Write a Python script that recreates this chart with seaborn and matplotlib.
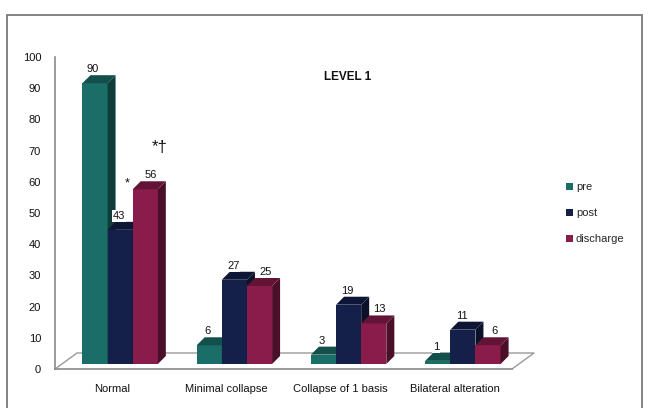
import numpy as np
import pandas as pd
import matplotlib
matplotlib.use("Agg")
import matplotlib.pyplot as plt
import matplotlib.colors as mcolors
from matplotlib.patches import Polygon, Patch, Rectangle
from matplotlib.transforms import ScaledTranslation
import seaborn as sns

categories = ["Normal", "Minimal collapse", "Collapse of 1 basis", "Bilateral alteration"]
series = ["pre", "post", "discharge"]
pre = [90, 6, 3, 1]
post = [43, 27, 19, 11]
discharge = [56, 25, 13, 6]
title = "LEVEL 1"

COLORS = {"pre": "#1b6e68", "post": "#141f4a", "discharge": "#8a1c4b"}
LABEL_DX = {"pre": -2, "post": -1, "discharge": 6}   # label nudge, pixels
DEPTH_PX = (8, 8)      # bar depth (right, up) in pixels
SHIFT_PX = (8, 5)      # bars sit mid-depth on the floor
FLOOR_PX = (22, 16)    # floor depth

df = pd.DataFrame({
    "category": np.repeat(categories, len(series)),
    "series": series * len(categories),
    "value": np.ravel(np.column_stack([pre, post, discharge])),
})

sns.set_style("white")
plt.rcParams["font.family"] = ["Liberation Sans", "DejaVu Sans"]

DPI = 100
fig = plt.figure(figsize=(6.59, 4.08), dpi=DPI)
ax = fig.add_axes([55 / 659, 39 / 408, 457 / 659, 312 / 408])

sns.barplot(data=df, x="category", y="value", hue="series", order=categories,
            hue_order=series, palette=COLORS, width=0.66, saturation=1,
            gap=0, legend=False, ax=ax)
ax.set_xlim(-0.5, 3.5)
ax.set_ylim(0, 100)


def px_shift(dx, dy):
    return ScaledTranslation(dx / DPI, dy / DPI, fig.dpi_scale_trans)


shift = ax.transData + px_shift(*SHIFT_PX)
ux = ax.bbox.width / 4.0
uy = ax.bbox.height / 100.0
ddx, ddy = DEPTH_PX[0] / ux, DEPTH_PX[1] / uy

for k, (name, cont) in enumerate(zip(series, ax.containers)):
    base = np.array(mcolors.to_rgb(COLORS[name]))
    for rect in cont.patches:
        x0, w, h = rect.get_x(), rect.get_width(), rect.get_height()
        x1 = x0 + w
        rect.set_transform(shift)
        rect.set_edgecolor("none")
        rect.set_zorder(3 + k)
        side = Polygon([(x1, 0), (x1, h), (x1 + ddx, h + ddy), (x1 + ddx, ddy)],
                       closed=True, facecolor=base * 0.55, edgecolor="none",
                       transform=shift, zorder=3 + k, clip_on=False)
        top = Polygon([(x0, h), (x1, h), (x1 + ddx, h + ddy), (x0 + ddx, h + ddy)],
                      closed=True, facecolor=base * 0.72, edgecolor="none",
                      transform=shift, zorder=3 + k, clip_on=False)
        ax.add_patch(side)
        ax.add_patch(top)
        ax.annotate(f"{h:g}", xy=(x0 + w / 2, h), xycoords="data",
                    xytext=(SHIFT_PX[0] + LABEL_DX[name], SHIFT_PX[1] + 14),
                    textcoords="offset pixels", ha="center", va="center",
                    fontsize=8, color="#111111", zorder=10,
                    bbox=dict(facecolor="white", edgecolor="none", pad=0.6))

# floor outline (back and side edges)
fx, fy = FLOOR_PX[0] / ux, FLOOR_PX[1] / uy
ax.plot([-0.5, -0.5 + fx, 3.5 + fx, 3.5], [0, fy, fy, 0], color="#9a9a9a",
        lw=1.0, clip_on=False, zorder=1)

# significance marks
ax.text(0.13, 59.5, "*", ha="center", va="center", fontsize=9, color="#111111")
ax.text(0.42, 71, "*†", ha="center", va="center", fontsize=12, color="#111111")

# axes styling
for s in ["top", "right"]:
    ax.spines[s].set_visible(False)
for s in ["left", "bottom"]:
    ax.spines[s].set_color("#8a8a8a")
    ax.spines[s].set_linewidth(1.2)

ax.set_yticks(np.arange(0, 101, 10))
ax.tick_params(axis="y", direction="out", length=5, width=1, color="#8a8a8a",
               labelsize=8, pad=5, labelcolor="#111111")
ax.set_xticks(np.arange(-0.5, 3.6, 1.0))
ax.set_xticklabels([])
ax.tick_params(axis="x", which="major", direction="out", length=4, width=1,
               color="#8a8a8a")
ax.set_xticks(range(len(categories)), minor=True)
ax.set_xticklabels(categories, minor=True)
ax.tick_params(axis="x", which="minor", length=0, labelsize=8, pad=10.5,
               labelcolor="#111111")
ax.set_xlabel("")
ax.set_ylabel("")

fig.text(348 / 659, 1 - 77 / 408, title, ha="center", va="center",
         fontsize=8.5, fontweight="bold", color="#111111")

handles = [Patch(facecolor=COLORS[s], edgecolor="none", label=s) for s in series]
ax.legend(handles=handles, loc="upper left", bbox_to_anchor=(566 / 659, 1 - 182 / 408),
          bbox_transform=fig.transFigure, frameon=False, fontsize=8,
          handlelength=0.6, handleheight=0.6, handletextpad=0.3,
          labelspacing=1.45, borderpad=0, borderaxespad=0)

# outer chart frame
fig.patches.append(Rectangle((7 / 659, -0.1), (642 - 7) / 659, 1.1 - 15 / 408,
                             transform=fig.transFigure, fill=False,
                             edgecolor="#7a7a7a", lw=1.3))

fig.savefig("out.png", dpi=DPI)
